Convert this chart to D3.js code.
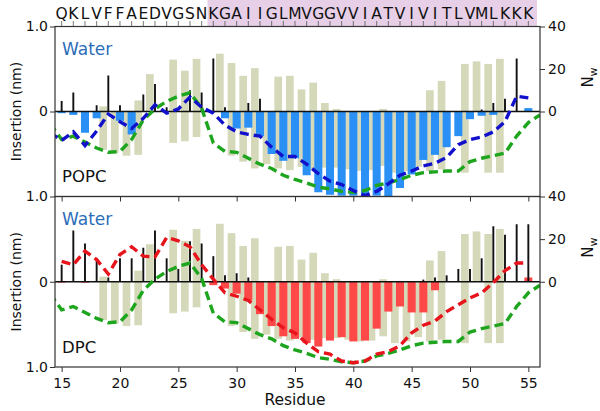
<!DOCTYPE html>
<html><head><meta charset="utf-8">
<script src="https://cdn.jsdelivr.net/npm/d3@7"></script>
<style>
body{margin:0;background:#fff}
svg{display:block;font-family:"DejaVu Sans",Verdana,sans-serif}
</style>
</head><body>
<svg id="chart" width="600" height="411"></svg>
<script>
// ---------------- data ----------------
const residues = [15,16,17,18,19,20,21,22,23,24,25,26,27,28,29,30,31,32,33,34,35,36,37,38,39,40,41,42,43,44,45,46,47,48,49,50,51,52,53,54,55];
const sequence = ["Q","K","L","V","F","F","A","E","D","V","G","S","N","K","G","A","I","I","G","L","M","V","G","G","V","V","I","A","T","V","I","V","I","T","L","V","M","L","K","K","K"];
const tmStart = 28;           // first residue of highlighted (TM) segment
const xTicks = [15,20,25,30,35,40,45,50,55];

// insertion depth of each residue (nm, positive = below the interface)
const popcDepth = [0.02,0.04,0.25,0.08,0,0.11,0.27, 0,0,0,0,0,0,0, 0.08,0.20,0.19,0.29,0.50,0.58,0.55, 0.75,0.95,0.98,0.99,0.99,1.0,0.99, 1.0,0.90,0.74,0.57,0.51,0.42,0.29, 0.09,0.05,0.04,0,0,-0.04];
const dpcDepth  = [0.01,0,0.01,0,0,0,0, 0,0,0,0,0,0,0.04, 0.08,0.14,0.22,0.38,0.52,0.64,0.67, 0.72,0.76,0.69,0.65,0.70,0.69,0.55, 0.35,0.29,0.36,0.36,0.10,0,0, 0,0,0,0,0,-0.05];

// number of water molecules around each residue
const popcWater = [5,9,0,3,17,3,0, 8,13,2,0,10,9,25, 2,0,4,6,0,0,0, 0,0,0,0,0,0,0, 0,0,0,0,0,0,0, 0,1,4,6,25,0];
const dpcWater  = [8,24,18,10,2,11,11, 16,24,11,6,19,18,12, 3,4,2,0,0,0,0, 0,0,0,0,0,0,0, 0,0,0,1,2,3,6, 6,11,26,22,27,27];

// reference range bars (nm, upper / lower ends; upward positive)
const refTop    = [0,0,0,0.06,0.0,0.01,0.13, 0.44,0,0.61,0.48,0.62,0,0.68, 0.57,0.42,0.51,0,0.41,0.42,0.26, 0.34,0.10,0.03,0,0,0,0.03, 0,0,0,0.25,0.36,0,0.56, 0.59,0.56,0.62,0,0,0];
const refBottom = [0,0,0,-0.45,-0.49,-0.52,-0.51, 0,0,-0.37,-0.35,-0.30,0,0, -0.52,-0.59,-0.67,-0.62,-0.67,-0.69,-0.65, -0.68,-0.66,-0.66,-0.68,-0.70,-0.69,-0.64, -0.72,-0.70,-0.65,-0.70,-0.68,0,-0.72, 0,-0.72,-0.72,0,0,0];

// smoothed insertion profiles (nm, upward positive)
const refProfileRes = [14,15,16,17,18,19,20,21,22,23,24,25,26,27,28,29,30,31,32,33,34,35,36,37,38,39,40,41,42,43,44,45,46,47,48,49,50,51,52,53,54,55,56];
const refProfile    = [-0.14,-0.33,-0.29,-0.36,-0.43,-0.48,-0.47,-0.33,-0.10,0.03,0.12,0.18,0.22,0.04,-0.37,-0.47,-0.48,-0.55,-0.62,-0.67,-0.75,-0.80,-0.84,-0.89,-0.91,-0.94,-0.95,-0.93,-0.87,-0.84,-0.80,-0.75,-0.72,-0.71,-0.70,-0.70,-0.59,-0.55,-0.52,-0.49,-0.29,-0.13,-0.04];
const popcProfileRes = [14,15,16,17,18,19,20,21,22,23,24,25,26,27,28,29,30,31,32,33,34,35,36,37,38,39,40,41,42,43,44,45,46,47,48,49,50,51,52,53,54,55];
const popcProfile    = [-0.25,-0.34,-0.24,-0.40,-0.23,-0.03,-0.12,-0.20,-0.08,0.08,-0.02,0.03,0.17,0.05,-0.02,-0.16,-0.24,-0.27,-0.29,-0.42,-0.53,-0.53,-0.62,-0.73,-0.82,-0.86,-0.93,-0.99,-0.94,-0.85,-0.75,-0.70,-0.64,-0.61,-0.54,-0.39,-0.33,-0.30,-0.24,-0.12,0.18,0.16];
const dpcProfileRes = [15,16,17,18,19,20,21,22,23,24,25,26,27,28,29,30,31,32,33,34,35,36,37,38,39,40,41,42,43,44,45,46,47,48,49,50,51,52,53,54,55];
const dpcProfile    = [0.24,0.20,0.36,0.26,0.09,0.32,0.41,0.30,0.29,0.52,0.48,0.41,0.20,0.03,-0.13,-0.17,-0.22,-0.33,-0.44,-0.54,-0.60,-0.72,-0.82,-0.85,-0.93,-0.95,-0.93,-0.85,-0.82,-0.75,-0.60,-0.51,-0.46,-0.35,-0.27,-0.19,-0.13,-0.01,0.13,0.22,0.22];

// ---------------- layout ----------------
const svg = d3.select("#chart");
const L = 55, R = 540;
const x = d3.scaleLinear().domain([14.43, 56.0]).range([L, R]);
const step = x(16) - x(15);
const panels = [
  {name:"POPC", top:26.5, bottom:196.5, depth:popcDepth, water:popcWater, color:"#2a90f5",
   lineColor:"#1111cc", profRes:popcProfileRes, prof:popcProfile, leftTicks:[1,0,-1], rightTicks:[40,20,0,-40]},
  {name:"DPC", top:196.5, bottom:367, depth:dpcDepth, water:dpcWater, color:"#ff4848",
   lineColor:"#e8141c", profRes:dpcProfileRes, prof:dpcProfile, leftTicks:[0,-1], rightTicks:[20,0]}
];
const axisColor = "#333";

// sequence header
svg.append("rect")
  .attr("x", x(tmStart - 0.5)).attr("y", 0)
  .attr("width", 537 - x(tmStart - 0.5)).attr("height", 26.5)
  .attr("fill", "#e6cfe7");
svg.append("g").selectAll("text").data(residues).join("text")
  .attr("x", d => x(d)).attr("y", 18.5)
  .attr("text-anchor", "middle").attr("font-size", 15.5).attr("fill", "#111")
  .text((d, i) => sequence[i]);
svg.append("g").selectAll("line").data(residues).join("line")
  .attr("x1", d => x(d)).attr("x2", d => x(d))
  .attr("y1", 21).attr("y2", 26.5)
  .attr("stroke", "#555").attr("stroke-width", 0.8);

panels.forEach((p, pi) => {
  const y = d3.scaleLinear().domain([-1, 1]).range([p.bottom, p.top]);
  const yw = d3.scaleLinear().domain([-40, 40]).range([p.bottom, p.top]);
  const clipId = "clip" + pi;
  svg.append("clipPath").attr("id", clipId).append("rect")
    .attr("x", L).attr("y", p.top).attr("width", R - L).attr("height", p.bottom - p.top);
  const g = svg.append("g").attr("clip-path", `url(#${clipId})`);

  // reference range bars
  const ow = step * 0.66;
  g.append("g").selectAll("rect").data(residues).join("rect")
    .attr("x", d => x(d + 0.56) - ow / 2)
    .attr("width", ow)
    .attr("y", (d, i) => y(refTop[i]))
    .attr("height", (d, i) => y(refBottom[i]) - y(refTop[i]))
    .attr("fill", "#d5d9ba");

  // depth bars
  const bw = step * 0.69;
  g.append("g").selectAll("rect").data(residues).join("rect")
    .attr("x", d => x(d) - bw / 2)
    .attr("width", bw)
    .attr("y", (d, i) => Math.min(y(0), y(-p.depth[i])))
    .attr("height", (d, i) => Math.abs(y(-p.depth[i]) - y(0)))
    .attr("fill", p.color);

  // water stems
  g.append("g").selectAll("line").data(residues).join("line")
    .attr("x1", d => x(d)).attr("x2", d => x(d))
    .attr("y1", yw(0)).attr("y2", (d, i) => yw(p.water[i]))
    .attr("stroke", "#111").attr("stroke-width", 1.9);

  // zero line
  g.append("line").attr("x1", L).attr("x2", R).attr("y1", y(0)).attr("y2", y(0))
    .attr("stroke", "#111").attr("stroke-width", 1.5);

  // profiles
  const line = d3.line().x(d => x(d[0])).y(d => y(d[1]));
  g.append("path").datum(refProfileRes.map((r, i) => [r, refProfile[i]]))
    .attr("d", line).attr("fill", "none").attr("stroke", "#1ea51e")
    .attr("stroke-width", 3.4).attr("stroke-dasharray", "9,5");
  g.append("path").datum(p.profRes.map((r, i) => [r, p.prof[i]]))
    .attr("d", line).attr("fill", "none").attr("stroke", p.lineColor)
    .attr("stroke-width", 3.4).attr("stroke-dasharray", "9,5");

  // axes
  const la = d3.axisLeft(y).tickValues(p.leftTicks).tickSize(5).tickPadding(2)
    .tickFormat(v => v === 0 ? "0" : d3.format(".1f")(Math.abs(v)));
  const lg = svg.append("g").attr("transform", `translate(${L},0)`).call(la);
  const ra = d3.axisRight(yw).tickValues(p.rightTicks).tickSize(5).tickPadding(3)
    .tickFormat(v => String(Math.abs(v)));
  const rg = svg.append("g").attr("transform", `translate(${R},0)`).call(ra);
  const bx = d3.axisBottom(x).tickValues(xTicks).tickSize(5)
    .tickFormat(pi === 1 ? d3.format("d") : () => "");
  const bg = svg.append("g").attr("transform", `translate(0,${p.bottom})`).call(bx);
  [lg, rg, bg].forEach(a => {
    a.select(".domain").remove();
    a.selectAll("line").attr("stroke", axisColor);
    a.selectAll("text").attr("font-size", 14).attr("fill", "#111")
      .attr("font-family", '"DejaVu Sans",Verdana,sans-serif');
  });
  bg.selectAll("text").attr("dy", "0.95em");

  // frame
  svg.append("rect").attr("x", L).attr("y", p.top).attr("width", R - L)
    .attr("height", p.bottom - p.top).attr("fill", "none")
    .attr("stroke", axisColor).attr("stroke-width", 1.2);

  // labels
  svg.append("text").attr("x", 62).attr("y", p.top + 28)
    .attr("font-size", 17).attr("fill", "#2a6db8").text("Water");
  svg.append("text").attr("x", 62).attr("y", p.bottom - 14.5)
    .attr("font-size", 16.5).attr("fill", "#111").text(p.name);
  svg.append("text")
    .attr("transform", `translate(21,${y(0)}) rotate(-90)`)
    .attr("text-anchor", "middle").attr("font-size", 14).attr("fill", "#111")
    .text("Insertion (nm)");
  const nw = svg.append("text")
    .attr("transform", `translate(593,${yw(16)}) rotate(-90)`)
    .attr("text-anchor", "middle").attr("font-size", 15).attr("fill", "#111");
  nw.append("tspan").text("N");
  nw.append("tspan").attr("font-size", 11).attr("dy", 4).text("w");
});

svg.append("text").attr("x", x(35)).attr("y", 405)
  .attr("text-anchor", "middle").attr("font-size", 15.5).attr("fill", "#111")
  .text("Residue");
</script>
</body></html>
